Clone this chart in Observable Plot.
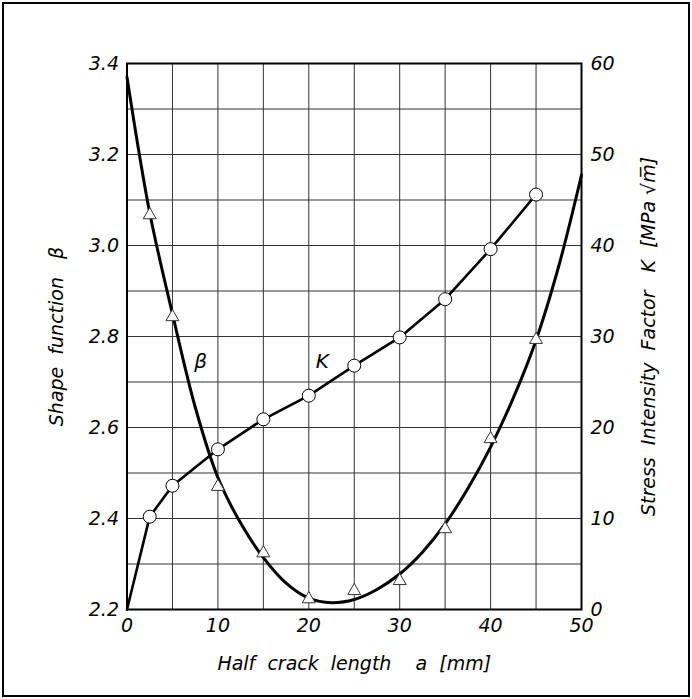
<!DOCTYPE html>
<html>
<head>
<meta charset="utf-8">
<script src="https://cdn.jsdelivr.net/npm/d3@7"></script>
<script src="https://cdn.jsdelivr.net/npm/@observablehq/plot@0.6"></script>
<style>
  html, body { margin: 0; padding: 0; background: #fff; }
  #wrap { position: relative; width: 692px; height: 699px; }
  #wrap::after { content: ""; position: absolute; left: 2px; top: 2px; right: 2px; bottom: 2px; border: 2px solid #000; pointer-events: none; }
  svg text { white-space: pre; font-style: italic; }
</style>
</head>
<body>
<div id="wrap"></div>
<script>
// Measured points
const crackA = [2.5, 5, 10, 15, 20, 25, 30, 35, 40, 45];
const betaMeasured = [3.067, 2.843, 2.470, 2.324, 2.223, 2.241, 2.263, 2.377, 2.575, 2.793];
const kMeasured = [10.2, 13.6, 17.6, 20.9, 23.5, 26.8, 29.9, 34.1, 39.6, 45.6];
// K line starts at the origin
const kLineA = [0, 2.5, 5, 10, 15, 20, 25, 30, 35, 40, 45];
const kLineK = [0, 10.2, 13.6, 17.6, 20.9, 23.5, 26.8, 29.9, 34.1, 39.6, 45.6];
// Fitted beta curve
const betaCurveA = [0, 2.5, 5, 7.5, 10, 12.5, 15, 17.5, 20, 22.5, 25, 27.5, 30, 32.5, 35, 37.5, 40, 42.5, 45, 47.5, 50];
const betaCurveB = [3.370, 3.072, 2.850, 2.645, 2.490, 2.390, 2.314, 2.258, 2.225, 2.215, 2.222, 2.244, 2.278, 2.326, 2.388, 2.466, 2.557, 2.665, 2.792, 2.955, 3.155];
// Axes
const xTicks = [0, 10, 20, 30, 40, 50];
const betaTicks = [2.2, 2.4, 2.6, 2.8, 3.0, 3.2, 3.4];
const kTicks = [0, 10, 20, 30, 40, 50, 60];
const kMax = 60;
const betaMin = 2.2, betaMax = 3.4;
const curveLabels = [{a: 8.1, b: 2.744, t: "β"}, {a: 21.5, b: 2.744, t: "K"}];

const kToBeta = k => betaMin + k * (betaMax - betaMin) / kMax;

const pts = crackA.map((a, i) => ({a, beta: betaMeasured[i], k: kMeasured[i]}));
const kLine = kLineA.map((a, i) => ({a, k: kLineK[i]}));
const betaCurve = betaCurveA.map((a, i) => ({a, beta: betaCurveB[i]}));

const font = "'DejaVu Sans', sans-serif";

const chart = Plot.plot({
  width: 692,
  height: 699,
  marginLeft: 126.5,
  marginRight: 111,
  marginTop: 63,
  marginBottom: 90,
  style: {fontFamily: font, fontSize: "18px", color: "#000", background: "#fff"},
  x: {domain: [0, 50]},
  y: {domain: [betaMin, betaMax]},
  marks: [
    Plot.gridX(d3.range(5, 50, 5), {stroke: "#333", strokeOpacity: 1, strokeWidth: 1}),
    Plot.gridY(d3.range(2.3, 3.35, 0.1), {stroke: "#333", strokeOpacity: 1, strokeWidth: 1}),
    Plot.frame({stroke: "#000", strokeWidth: 2}),
    Plot.axisX(xTicks, {tickSize: 0, tickPadding: 9, fontSize: 19, label: null}),
    Plot.axisY(betaTicks, {anchor: "left", tickSize: 0, tickPadding: 8, fontSize: 19, tickFormat: d3.format(".1f"), label: null}),
    Plot.axisY(betaTicks, {anchor: "right", tickSize: 0, tickPadding: 9, fontSize: 19, tickFormat: (d, i) => String(kTicks[i]), label: null}),
    Plot.line(betaCurve, {x: "a", y: "beta", curve: "catmull-rom", stroke: "#000", strokeWidth: 3}),
    Plot.line(kLine, {x: "a", y: d => kToBeta(d.k), curve: "linear", stroke: "#000", strokeWidth: 2.6}),
    Plot.dot(pts, {x: "a", y: "beta", symbol: "triangle", r: 4.8, fill: "#fff", stroke: "#333", strokeWidth: 1}),
    Plot.dot(pts, {x: "a", y: d => kToBeta(d.k), symbol: "circle", r: 6.5, fill: "#fff", stroke: "#000", strokeWidth: 1}),
    Plot.text(curveLabels, {x: "a", y: "b", text: "t", fontSize: 20, fill: "#000"}),
    Plot.text(["Half  crack  length    a  [mm]"], {frameAnchor: "bottom", dy: 60, fontSize: 19, fill: "#000"}),
    Plot.text(["Shape  function   β"], {frameAnchor: "left", textAnchor: "middle", dx: -70, rotate: -90, fontSize: 19, fill: "#000"}),
    Plot.text(["Stress  Intensity  Factor   K  [MPa √m̅]"], {frameAnchor: "right", textAnchor: "middle", dx: 67, rotate: -90, fontSize: 19, fill: "#000"})
  ]
});
document.getElementById("wrap").appendChild(chart);
</script>
</body>
</html>
